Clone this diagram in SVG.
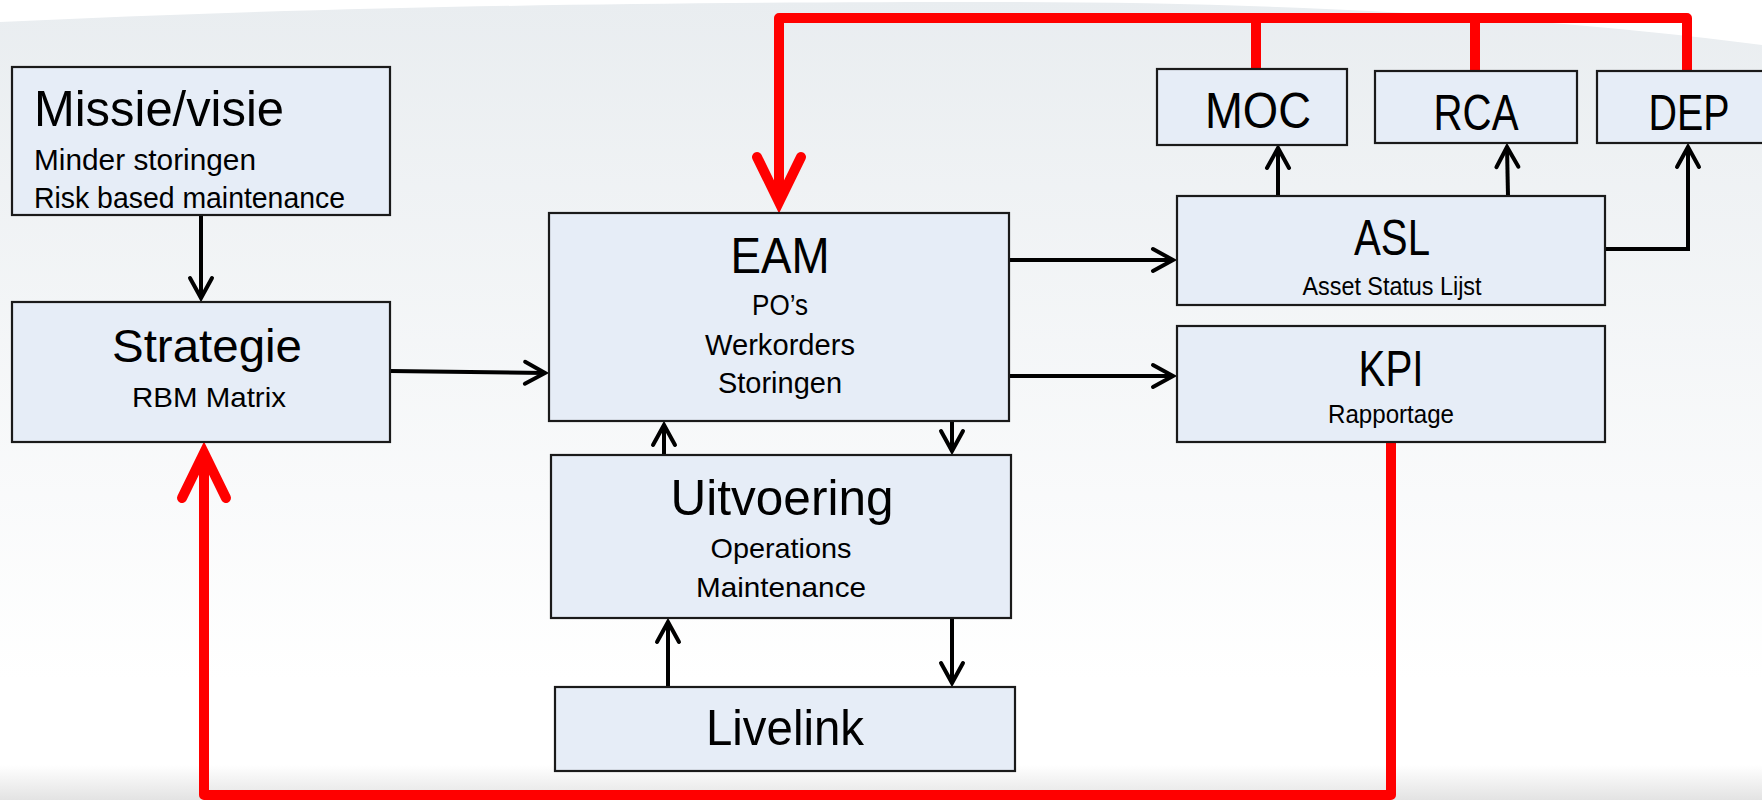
<svg xmlns="http://www.w3.org/2000/svg" width="1762" height="800" viewBox="0 0 1762 800">
<defs>
<linearGradient id="bg" x1="0" y1="0" x2="0" y2="1">
<stop offset="0" stop-color="#E9EDF0"/>
<stop offset="0.85" stop-color="#FFFFFF"/>
<stop offset="1" stop-color="#FFFFFF"/>
</linearGradient>
<linearGradient id="foot" x1="0" y1="0" x2="0" y2="1">
<stop offset="0" stop-color="#FFFFFF"/>
<stop offset="1" stop-color="#E3E3E3"/>
</linearGradient>
<marker id="ah" markerUnits="userSpaceOnUse" markerWidth="40" markerHeight="40" viewBox="-30 -20 40 40" refX="0" refY="0" orient="auto" overflow="visible">
<path d="M-20,-11 L0,0 L-20,11" fill="none" stroke="#000" stroke-width="4" stroke-linejoin="miter" stroke-linecap="round"/>
</marker>
<marker id="ahr" markerUnits="userSpaceOnUse" markerWidth="80" markerHeight="80" viewBox="-60 -40 80 80" refX="0" refY="0" orient="auto" overflow="visible">
<path d="M-46,-22 L-1,0 L-46,22" fill="none" stroke="#FF0000" stroke-width="10" stroke-linejoin="miter" stroke-linecap="round"/>
</marker>
</defs>
<style>
.box{fill:#E6EDF7;stroke:#1A1A1A;stroke-width:2.2}
.t{font-family:"Liberation Sans",Arial,sans-serif;fill:#000;text-anchor:middle}
.l{text-anchor:start}
.h{font-size:50px}
.s{font-size:29px}
.ss{font-size:25px}
.blk{fill:none;stroke:#000;stroke-width:4}
.red{fill:none;stroke:#FF0000;stroke-width:10;stroke-linejoin:round}
</style>
<rect x="0" y="0" width="1762" height="800" fill="url(#bg)"/>
<path d="M0,0 L0,22 C300,8 600,2 1000,2 C1300,2 1550,18 1762,45 L1762,0 Z" fill="#FFFFFF"/>
<rect x="0" y="765" width="1762" height="35" fill="url(#foot)"/>

<g id="connectors">
<path class="red" d="M1687,71 L1687,18 L779,18 L779,203" marker-end="url(#ahr)"/>
<path class="red" d="M1256,18 L1256,70"/>
<path class="red" d="M1475,18 L1475,71"/>
<path class="red" d="M1391,441 L1391,795 L204,795 L204,452" marker-end="url(#ahr)"/>
<path class="blk" d="M201,215 L201,298" marker-end="url(#ah)"/>
<path class="blk" d="M390,371 L545,373" marker-end="url(#ah)"/>
<path class="blk" d="M1009,260 L1173,260" marker-end="url(#ah)"/>
<path class="blk" d="M1009,376 L1173,376" marker-end="url(#ah)"/>
<path class="blk" d="M1278,196 L1278,148" marker-end="url(#ah)"/>
<path class="blk" d="M1508,196 L1507,147" marker-end="url(#ah)"/>
<path class="blk" d="M1605,249 L1688,249 L1688,147" marker-end="url(#ah)"/>
<path class="blk" d="M664,455 L664,425" marker-end="url(#ah)"/>
<path class="blk" d="M952,421 L952,451" marker-end="url(#ah)"/>
<path class="blk" d="M668,687 L668,622" marker-end="url(#ah)"/>
<path class="blk" d="M952,618 L952,683" marker-end="url(#ah)"/>
</g>

<g id="missie">
<rect class="box" x="12" y="67" width="378" height="148"/>
<text class="t l h" x="34" y="126" textLength="250" lengthAdjust="spacingAndGlyphs">Missie/visie</text>
<text class="t l s" x="34" y="170" textLength="222" lengthAdjust="spacingAndGlyphs">Minder storingen</text>
<text class="t l s" x="34" y="208" textLength="311" lengthAdjust="spacingAndGlyphs">Risk based maintenance</text>
</g>
<g id="strategie">
<rect class="box" x="12" y="302" width="378" height="140"/>
<text class="t" x="207" y="362" font-size="47" textLength="190" lengthAdjust="spacingAndGlyphs">Strategie</text>
<text class="t" x="209" y="407" font-size="28" textLength="154" lengthAdjust="spacingAndGlyphs">RBM Matrix</text>
</g>
<g id="eam">
<rect class="box" x="549" y="213" width="460" height="208"/>
<text class="t h" x="780" y="273" textLength="99" lengthAdjust="spacingAndGlyphs">EAM</text>
<text class="t s" x="780" y="315" textLength="56" lengthAdjust="spacingAndGlyphs">PO’s</text>
<text class="t s" x="780" y="355" textLength="150" lengthAdjust="spacingAndGlyphs">Werkorders</text>
<text class="t s" x="780" y="393" textLength="124" lengthAdjust="spacingAndGlyphs">Storingen</text>
</g>
<g id="uitvoering">
<rect class="box" x="551" y="455" width="460" height="163"/>
<text class="t h" x="782" y="515" textLength="223" lengthAdjust="spacingAndGlyphs">Uitvoering</text>
<text class="t" x="781" y="558" font-size="28" textLength="141" lengthAdjust="spacingAndGlyphs">Operations</text>
<text class="t" x="781" y="597" font-size="28" textLength="170" lengthAdjust="spacingAndGlyphs">Maintenance</text>
</g>
<g id="livelink">
<rect class="box" x="555" y="687" width="460" height="84"/>
<text class="t h" x="785" y="745" textLength="158" lengthAdjust="spacingAndGlyphs">Livelink</text>
</g>
<g id="asl">
<rect class="box" x="1177" y="196" width="428" height="109"/>
<text class="t h" x="1392" y="255" textLength="76" lengthAdjust="spacingAndGlyphs">ASL</text>
<text class="t ss" x="1392" y="295" textLength="179" lengthAdjust="spacingAndGlyphs">Asset Status Lijst</text>
</g>
<g id="kpi">
<rect class="box" x="1177" y="326" width="428" height="116"/>
<text class="t h" x="1391" y="386" textLength="65" lengthAdjust="spacingAndGlyphs">KPI</text>
<text class="t ss" x="1391" y="423" textLength="126" lengthAdjust="spacingAndGlyphs">Rapportage</text>
</g>
<g id="moc">
<rect class="box" x="1157" y="69" width="190" height="76"/>
<text class="t h" x="1258" y="128" textLength="106" lengthAdjust="spacingAndGlyphs">MOC</text>
</g>
<g id="rca">
<rect class="box" x="1375" y="71" width="202" height="72"/>
<text class="t h" x="1476" y="130" textLength="85" lengthAdjust="spacingAndGlyphs">RCA</text>
</g>
<g id="dep">
<rect class="box" x="1597" y="71" width="175" height="72"/>
<text class="t h" x="1689" y="130" textLength="81" lengthAdjust="spacingAndGlyphs">DEP</text>
</g>
</svg>
